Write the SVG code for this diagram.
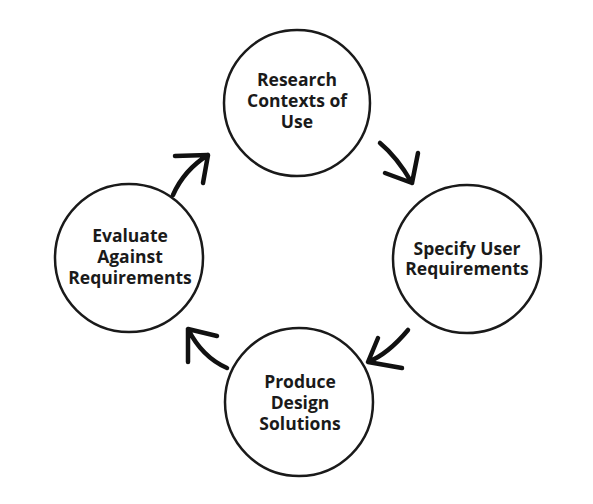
<svg xmlns="http://www.w3.org/2000/svg" width="593" height="504" viewBox="0 0 593 504">
<style>
.node circle{fill:#fff;stroke:#1a1a1a;stroke-width:2.5}
.node text{font-family:"Open Sans","Noto Sans",sans-serif;font-weight:700;font-size:17.5px;fill:#1a1a1a;text-anchor:middle}
.conn path{fill:none;stroke:#111;stroke-width:4.5;stroke-linecap:round;stroke-linejoin:round}
</style>
<rect width="593" height="504" fill="#fff"/>
<g id="n-research" class="node">
<circle cx="297" cy="103" r="73"/>
<text x="297" y="86">Research</text>
<text x="297" y="107">Contexts of</text>
<text x="297" y="128">Use</text>
</g>
<g id="n-specify" class="node">
<circle cx="467" cy="259" r="74"/>
<text x="467" y="255">Specify User</text>
<text x="467" y="275">Requirements</text>
</g>
<g id="n-produce" class="node">
<circle cx="299" cy="402" r="74"/>
<text x="300" y="388">Produce</text>
<text x="300" y="409">Design</text>
<text x="300" y="430">Solutions</text>
</g>
<g id="n-evaluate" class="node">
<circle cx="129" cy="258" r="74"/>
<text x="130" y="242">Evaluate</text>
<text x="130" y="263">Against</text>
<text x="130" y="284">Requirements</text>
</g>
<g id="connectors" class="conn">
<path d="M380,143 Q397,157 412,183 M418,153 L412,183 L385,173"/>
<path d="M408,330 Q388,354 368,362 M378,338 L368,362 L402,368"/>
<path d="M227,368 Q202,357 188,329 M217,336 L188,329 L188,362"/>
<path d="M173,195 Q184,170 208,155 M175,156 L208,155 L203,183"/>
</g>
</svg>
